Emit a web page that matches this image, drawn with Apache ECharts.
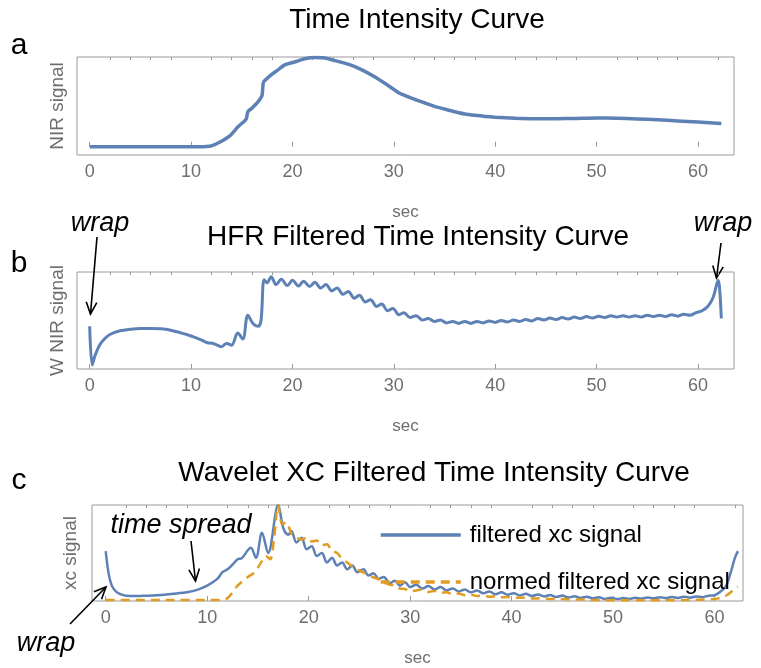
<!DOCTYPE html>
<html>
<head>
<meta charset="utf-8">
<script src="https://cdn.jsdelivr.net/npm/echarts@6/dist/echarts.min.js"></script>
<style>
  html, body { margin: 0; padding: 0; background: #fff; }
  #chart { width: 761px; height: 668px; }
</style>
</head>
<body>
<div id="chart"></div>
<script>
// panel a: raw time intensity curve
const tA = [0, 4, 8, 11, 11.5, 12, 12.9, 13.9, 14.6, 15.3, 15.45, 15.6, 16, 16.6, 17, 17.15, 17.9, 18.5, 19.2, 20.2, 21.2, 22.2, 23.2, 24.2, 25.5, 26.8, 28.1, 29.4, 30.5, 31, 32, 33, 34, 35, 36, 37, 38, 39, 40, 42, 44, 46, 48, 50, 52, 54, 56, 58, 60, 62.3];
const nirA = [0, 0, 0, 0, 0.002, 0.01, 0.056, 0.13, 0.22, 0.29, 0.31, 0.39, 0.43, 0.5, 0.57, 0.72, 0.8, 0.85, 0.91, 0.944, 0.98, 0.995, 0.99, 0.96, 0.92, 0.86, 0.78, 0.685, 0.6, 0.575, 0.53, 0.49, 0.45, 0.42, 0.39, 0.365, 0.35, 0.338, 0.33, 0.318, 0.313, 0.313, 0.316, 0.32, 0.318, 0.31, 0.3, 0.288, 0.276, 0.26];

// panel b: HFR filtered
const tB = [0, 0.25, 0.5, 1, 1.5, 2, 3, 4, 5, 6, 7, 8, 9, 10, 11, 11.6, 12.1, 12.6, 13, 13.5, 14, 14.6, 15.1, 15.6, 16.1, 16.6, 16.9, 17.2, 17.5, 17.9, 18.4, 18.9, 19.5, 20, 20.6, 21.1, 21.7, 22.2, 22.8, 23.3, 23.9, 24.4, 25, 25.5, 26.1, 26.6, 27.2, 27.7, 28.3, 28.8, 29.4, 29.9, 30.5, 31, 31.6, 32.2, 32.8, 33.4, 34, 34.6, 35.2, 35.8, 36.4, 37, 37.6, 38.2, 38.8, 39.4, 40, 40.6, 41.2, 41.8, 42.4, 43, 43.6, 44.2, 44.8, 45.4, 46, 46.6, 47.2, 47.8, 48.4, 49, 49.6, 50.2, 50.8, 51.4, 52, 52.6, 53.2, 53.8, 54.4, 55, 55.6, 56.2, 56.8, 57.4, 58, 58.6, 59.2, 59.8, 60.4, 61, 61.5, 62, 62.15, 62.3];
const nirB = [0.44, 0.04, 0.13, 0.25, 0.315, 0.356, 0.394, 0.41, 0.418, 0.418, 0.414, 0.4, 0.373, 0.34, 0.3, 0.27, 0.265, 0.245, 0.23, 0.264, 0.245, 0.37, 0.31, 0.555, 0.47, 0.44, 0.5, 0.92, 0.89, 0.95, 0.87, 0.925, 0.86, 0.915, 0.855, 0.905, 0.85, 0.895, 0.835, 0.87, 0.805, 0.835, 0.77, 0.8, 0.73, 0.76, 0.69, 0.715, 0.645, 0.67, 0.6, 0.625, 0.56, 0.58, 0.53, 0.55, 0.505, 0.52, 0.49, 0.505, 0.475, 0.49, 0.47, 0.49, 0.47, 0.49, 0.475, 0.495, 0.48, 0.5, 0.485, 0.505, 0.49, 0.51, 0.495, 0.52, 0.505, 0.525, 0.51, 0.53, 0.515, 0.535, 0.52, 0.54, 0.525, 0.545, 0.53, 0.55, 0.535, 0.55, 0.535, 0.55, 0.535, 0.555, 0.54, 0.555, 0.54, 0.56, 0.545, 0.565, 0.555, 0.58, 0.6, 0.65, 0.74, 0.914, 0.8, 0.52];

// panel c: wavelet xc filtered
const tC = [0, 0.3, 0.6, 1, 1.5, 2, 3, 4, 5, 6, 7, 8, 9, 10, 11, 11.5, 12, 12.5, 13, 13.4, 14.3, 14.8, 15.4, 16, 17, 17.5, 18, 18.3, 18.8, 19.3, 19.8, 20.3, 20.8, 21.3, 21.8, 22.3, 22.8, 23.3, 23.8, 24.3, 24.8, 25.4, 25.9, 26.4, 26.9, 27.4, 28, 28.5, 29, 29.5, 30, 30.6, 31.2, 31.8, 32.4, 33, 33.6, 34.2, 34.8, 35.4, 36, 36.6, 37.2, 37.8, 38.4, 39, 39.6, 40.2, 40.8, 41.4, 42, 42.6, 43.2, 43.8, 44.4, 45, 45.6, 46.2, 46.8, 47.4, 48, 48.6, 49.2, 49.8, 50.4, 51, 51.6, 52.2, 52.8, 53.4, 54, 54.6, 55.2, 55.8, 56.4, 57, 57.6, 58.2, 58.8, 59.4, 60, 60.6, 61.1, 61.6, 62, 62.3];
const xcC = [0.52, 0.28, 0.16, 0.1, 0.068, 0.055, 0.051, 0.055, 0.06, 0.068, 0.079, 0.092, 0.116, 0.16, 0.23, 0.3, 0.33, 0.38, 0.435, 0.445, 0.555, 0.45, 0.71, 0.5, 1, 0.76, 0.69, 0.73, 0.61, 0.66, 0.54, 0.57, 0.47, 0.5, 0.4, 0.45, 0.37, 0.4, 0.33, 0.37, 0.3, 0.33, 0.265, 0.29, 0.23, 0.25, 0.185, 0.21, 0.16, 0.195, 0.145, 0.17, 0.13, 0.155, 0.12, 0.145, 0.11, 0.13, 0.1, 0.12, 0.09, 0.11, 0.08, 0.1, 0.07, 0.09, 0.065, 0.082, 0.058, 0.075, 0.052, 0.068, 0.047, 0.062, 0.042, 0.056, 0.037, 0.05, 0.032, 0.045, 0.028, 0.04, 0.022, 0.034, 0.02, 0.03, 0.022, 0.034, 0.025, 0.037, 0.028, 0.04, 0.03, 0.042, 0.032, 0.045, 0.035, 0.048, 0.04, 0.055, 0.06, 0.1, 0.15, 0.3, 0.45, 0.52];
const tN = [0, 4, 8, 11.5, 12, 12.5, 13, 14, 14.7, 15.3, 15.8, 16.2, 16.6, 17, 17.4, 17.8, 18.3, 18.8, 19.3, 19.8, 20.3, 20.8, 21.3, 21.8, 22.3, 22.8, 23.3, 23.8, 24.3, 24.8, 25.3, 25.8, 26.3, 26.8, 27.5, 28, 28.5, 29, 29.5, 30, 30.6, 31.2, 31.8, 32.4, 33, 33.6, 34.2, 34.8, 35.4, 36, 36.6, 37.2, 37.8, 38.4, 39, 39.6, 40.2, 41, 42, 43, 44, 45, 46, 47, 48, 50, 52, 54, 56, 58, 59.5, 60.5, 61.2, 61.8, 62.3];
const normC = [0.01, 0.01, 0.01, 0.012, 0.03, 0.09, 0.16, 0.25, 0.3, 0.4, 0.47, 0.435, 0.66, 1, 0.8, 0.82, 0.7, 0.66, 0.64, 0.66, 0.62, 0.63, 0.58, 0.59, 0.52, 0.5, 0.44, 0.4, 0.36, 0.33, 0.3, 0.28, 0.25, 0.23, 0.19, 0.17, 0.16, 0.13, 0.125, 0.1, 0.11, 0.12, 0.095, 0.105, 0.085, 0.09, 0.07, 0.078, 0.06, 0.066, 0.052, 0.058, 0.045, 0.05, 0.038, 0.042, 0.032, 0.035, 0.026, 0.028, 0.02, 0.02, 0.014, 0.015, 0.01, 0.007, 0.007, 0.008, 0.008, 0.012, 0.017, 0.03, 0.06, 0.11, 0.15];

const majorTicks = [0, 10, 20, 30, 40, 50, 60];
const minorTicks = [2, 4, 6, 8, 12, 14, 16, 18, 22, 24, 26, 28, 32, 34, 36, 38, 42, 44, 46, 48, 52, 54, 56, 58, 62];

const BLUE = '#5e81b5';
const ORANGE = '#e19c24';
const FRAME = '#9a9a9a';
const GREY = '#6e6e6e';
const FONT = '"Liberation Sans", Arial, sans-serif';

const pairs = (xs, ys) => xs.map((x, i) => [x, ys[i]]);

function xAxes(gridIndex, min, max) {
  return [
    {
      type: 'value', gridIndex, min, max,
      name: 'sec', nameLocation: 'middle', nameGap: 49,
      nameTextStyle: { color: GREY, fontSize: 17, fontFamily: FONT },
      axisLine: { show: false },
      splitLine: { show: false },
      axisTick: { show: true, inside: true, length: 5, customValues: majorTicks, lineStyle: { color: FRAME } },
      axisLabel: { show: true, customValues: majorTicks, margin: 8, color: GREY, fontSize: 18, fontFamily: FONT }
    },
    {
      type: 'value', gridIndex, min, max,
      axisLine: { show: false },
      splitLine: { show: false },
      axisTick: { show: true, inside: true, length: 3, customValues: minorTicks, lineStyle: { color: FRAME } },
      axisLabel: { show: false }
    }
  ];
}

function yAxis(gridIndex, name, min, max, gap) {
  return {
    type: 'value', gridIndex, min, max, name,
    nameLocation: 'middle', nameRotate: 90, nameGap: gap,
    nameTextStyle: { color: GREY, fontSize: 19, fontFamily: FONT },
    axisLine: { show: false }, axisTick: { show: false },
    axisLabel: { show: false }, splitLine: { show: false }
  };
}

function arrow(x1, y1, x2, y2) {
  const a = Math.atan2(y2 - y1, x2 - x1), L = 13, s = 0.42;
  const st = { stroke: '#000', lineWidth: 1.6, fill: null };
  return [
    { type: 'line', shape: { x1, y1, x2, y2 }, style: st },
    { type: 'polyline', shape: { points: [
      [x2 - L * Math.cos(a - s), y2 - L * Math.sin(a - s)], [x2, y2],
      [x2 - L * Math.cos(a + s), y2 - L * Math.sin(a + s)]] }, style: st }
  ];
}

function label(text, x, y, size, italic) {
  return {
    type: 'text', x, y,
    style: { text, fill: '#000', fontSize: size, fontFamily: FONT,
      fontStyle: italic ? 'italic' : 'normal', align: 'center', verticalAlign: 'middle' }
  };
}

const chart = echarts.init(document.getElementById('chart'));
const titleStyle = { color: '#000', fontSize: 28, fontWeight: 'normal', fontFamily: FONT };

chart.setOption({
  animation: false,
  backgroundColor: '#fff',
  title: [
    { text: 'Time Intensity Curve', left: 417, top: 6, textAlign: 'center', padding: 0, textStyle: titleStyle },
    { text: 'HFR Filtered Time Intensity Curve', left: 418, top: 223, textAlign: 'center', padding: 0, textStyle: titleStyle },
    { text: 'Wavelet XC Filtered Time Intensity Curve', left: 434, top: 459, textAlign: 'center', padding: 0, textStyle: titleStyle }
  ],
  grid: [
    { left: 77, top: 57, width: 657, height: 98, show: true, borderColor: FRAME, borderWidth: 1 },
    { left: 77, top: 272, width: 657, height: 97, show: true, borderColor: FRAME, borderWidth: 1 },
    { left: 92, top: 505, width: 651, height: 97, show: true, borderColor: FRAME, borderWidth: 1 }
  ],
  xAxis: [
    ...xAxes(0, -1.25, 63.55),
    ...xAxes(1, -1.25, 63.55),
    ...xAxes(2, -1.35, 62.8)
  ],
  yAxis: [
    yAxis(0, 'NIR signal', -0.092, 1.0, 10),
    yAxis(1, 'W NIR signal', 0, 1, 10),
    yAxis(2, 'xc signal', 0, 1, 12)
  ],
  legend: {
    orient: 'vertical', left: 374, top: 516,
    itemWidth: 80, itemHeight: 14, itemGap: 19,
    itemStyle: { opacity: 0 },
    lineStyle: { width: 3.5 },
    textStyle: { color: '#000', fontSize: 24, fontFamily: FONT, lineHeight: 28, padding: [0, 0, 0, 4] },
    data: ['filtered xc signal', 'normed filtered xc signal']
  },
  series: [
    {
      type: 'line', name: 'NIR', xAxisIndex: 0, yAxisIndex: 0,
      data: pairs(tA, nirA), showSymbol: false, symbol: 'none', smooth: 0.2,
      lineStyle: { color: BLUE, width: 3.5 }, itemStyle: { color: BLUE }
    },
    {
      type: 'line', name: 'W NIR', xAxisIndex: 2, yAxisIndex: 1,
      data: pairs(tB, nirB), showSymbol: false, symbol: 'none', smooth: 0.35,
      lineStyle: { color: BLUE, width: 3 }, itemStyle: { color: BLUE }
    },
    {
      type: 'line', name: 'filtered xc signal', xAxisIndex: 4, yAxisIndex: 2,
      data: pairs(tC, xcC), showSymbol: false, symbol: 'none', smooth: 0.35,
      lineStyle: { color: BLUE, width: 2.5 }, itemStyle: { color: BLUE }
    },
    {
      type: 'line', name: 'normed filtered xc signal', xAxisIndex: 4, yAxisIndex: 2,
      data: pairs(tN, normC), showSymbol: false, symbol: 'none', smooth: 0.35,
      lineStyle: { color: ORANGE, width: 2.5, type: [9, 6] }, itemStyle: { color: ORANGE }
    }
  ],
  graphic: [
    label('a', 19, 46, 30, false),
    label('b', 19, 264, 30, false),
    label('c', 19, 481, 30, false),
    label('wrap', 100, 223, 27, true),
    label('wrap', 723, 223, 27, true),
    label('time spread', 181, 525, 27, true),
    label('wrap', 46, 643, 27, true),
    ...arrow(97, 237, 90.5, 314),
    ...arrow(721, 243, 716.5, 278),
    ...arrow(191, 541, 195.5, 581),
    ...arrow(70, 624, 106, 587)
  ]
});
</script>
</body>
</html>
